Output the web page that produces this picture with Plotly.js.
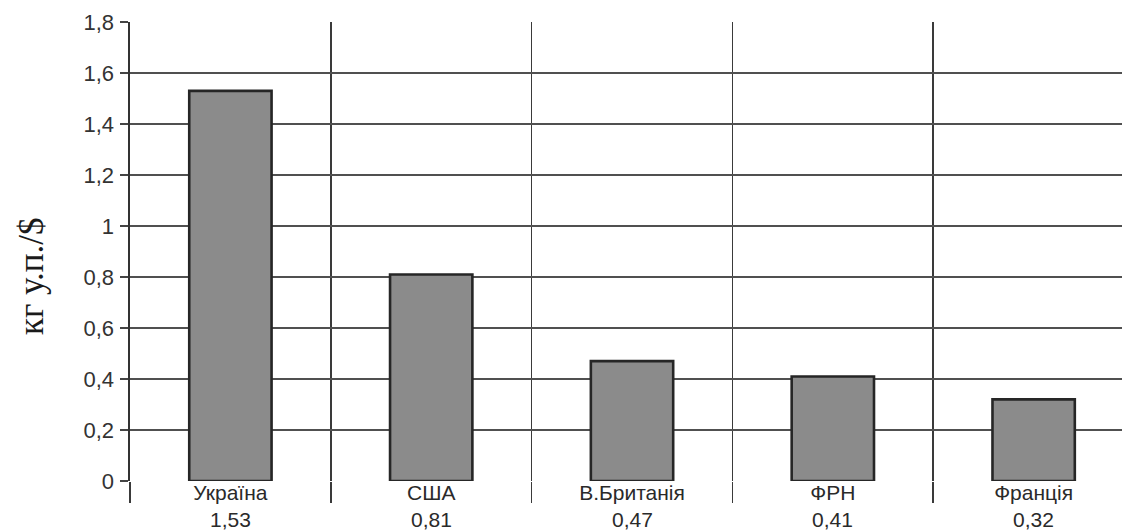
<!DOCTYPE html>
<html>
<head>
<meta charset="utf-8">
<script src="https://cdn.plot.ly/plotly-3.0.1.min.js"></script>
<style>
  html, body { margin: 0; padding: 0; background: #fff; overflow: hidden; }
  #chart { width: 1122px; height: 532px; }
</style>
</head>
<body>
<div id="chart"></div>
<script>
// Energy intensity of GDP by country (kg of coal equivalent per $)
const countries = ["Україна", "США", "В.Британія", "ФРН", "Франція"];
const intensity = [1.53, 0.81, 0.47, 0.41, 0.32];
const yTicks = [0, 0.2, 0.4, 0.6, 0.8, 1.0, 1.2, 1.4, 1.6, 1.8];
const yGrid = [0, 0.2, 0.4, 0.6, 0.8, 1.0, 1.2, 1.4, 1.6];
const yTitle = "кг у.п./$";

const fmt = v => v.toFixed(2).replace(".", ",");
const fmtTick = v => (Number.isInteger(v) ? String(v) : String(v).replace(".", ","));

const sans = "Liberation Sans, Arial, sans-serif";
const nameFont = { family: sans, size: 21, color: "#2a2a2a" };
const tickFont = { family: sans, size: 22, color: "#333333" };

const bars = {
  type: "bar",
  x: countries,
  y: intensity,
  width: 0.41,
  marker: { color: "#8b8b8b", line: { color: "#262626", width: 2.6 } },
  hoverinfo: "skip"
};

// invisible trace on the secondary axis so its grid lines are drawn
const gridCarrier = {
  type: "scatter", mode: "markers",
  x: countries, y: intensity.map(() => null),
  yaxis: "y2", showlegend: false, hoverinfo: "skip"
};

// value under each country name
const valueNotes = countries.map((c, i) => ({
  text: fmt(intensity[i]),
  xref: "x", yref: "paper",
  x: c, y: -0.0839,
  xanchor: "center", yanchor: "middle",
  showarrow: false,
  borderpad: 0,
  font: nameFont
}));

const layout = {
  width: 1122, height: 532,
  margin: { l: 130, r: 0, t: 22, b: 51 },
  paper_bgcolor: "#ffffff", plot_bgcolor: "#ffffff",
  showlegend: false,
  xaxis: {
    type: "category",
    range: [-0.5, 4.44],
    tickson: "boundaries",
    ticks: "outside", ticklen: 21, tickwidth: 1.5, tickcolor: "#3a3a3a",
    showgrid: true, gridcolor: "#3a3a3a", gridwidth: 1.5,
    tickfont: nameFont,
    ticklabelstandoff: -3,
    showline: false, zeroline: false, fixedrange: true
  },
  yaxis: {
    range: [0, 1.8],
    tickmode: "array", tickvals: yTicks, ticktext: yTicks.map(fmtTick),
    ticks: "outside", ticklen: 8, tickwidth: 1.3, tickcolor: "#444",
    tickfont: tickFont,
    ticklabelstandoff: 2,
    showgrid: false, zeroline: false,
    showline: true, linecolor: "#333", linewidth: 1.6,
    fixedrange: true
  },
  yaxis2: {
    overlaying: "y", side: "left",
    range: [0, 1.8],
    tickmode: "array", tickvals: yGrid,
    showticklabels: false, ticks: "",
    showgrid: true, gridcolor: "#505050", gridwidth: 1.2,
    zeroline: false, showline: false, fixedrange: true
  },
  annotations: valueNotes.concat([{
    text: yTitle,
    xref: "paper", yref: "paper",
    x: -0.0998, y: 0.4466,
    xanchor: "center", yanchor: "middle",
    textangle: -90, showarrow: false,
    font: { family: "Liberation Serif, Times New Roman, serif", size: 35, color: "#1a1a1a" }
  }])
};

Plotly.newPlot("chart", [gridCarrier, bars], layout, { displayModeBar: false, staticPlot: true });
</script>
</body>
</html>
